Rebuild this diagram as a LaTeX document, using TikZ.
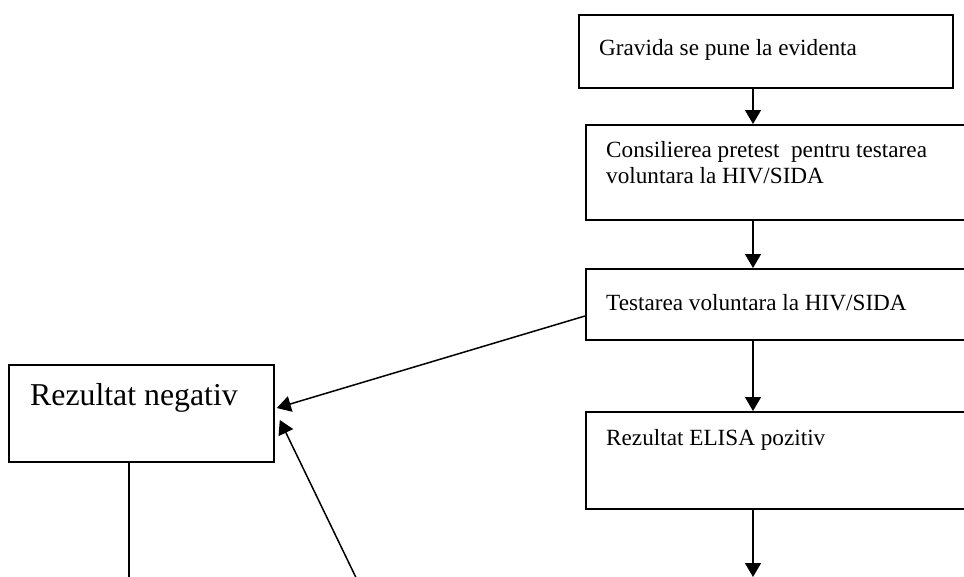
\documentclass[tikz,border=0pt]{standalone}
\usepackage{fontspec}
\setmainfont{Liberation Serif}
\usetikzlibrary{arrows.meta}
\begin{document}
\begin{tikzpicture}[x=1pt,y=-1pt,
  box/.style={draw,line width=1.8pt,rectangle,inner sep=0pt,anchor=north west},
  lbl/.style={anchor=base west,inner sep=0pt,font=\fontsize{23.2}{26}\selectfont,align=left},
  biglbl/.style={anchor=base west,inner sep=0pt,font=\fontsize{31.8}{36}\selectfont},
  conn/.style={line width=1.5pt,-{Triangle[width=16pt,length=14pt]}},
  plain/.style={line width=1.5pt},
]
\useasboundingbox (0,0) rectangle (964,576);
\clip (0,0) rectangle (964,576);
\fill[white] (0,0) rectangle (964,576);

\node[box,minimum width=374pt,minimum height=73pt] (b1) at (578,14) {};
\node[box,minimum width=400pt,minimum height=95pt] (b2) at (585,124) {};
\node[box,minimum width=400pt,minimum height=71pt] (b3) at (585,268) {};
\node[box,minimum width=400pt,minimum height=97pt] (b4) at (585,411) {};
\node[box,minimum width=265pt,minimum height=97pt] (neg) at (8,364) {};

\node[lbl] (t1) at (599,55) {Gravida se pune la evidenta};
\node[lbl] (t2) at (606,157) {Consilierea pretest\ \ pentru testarea};
\node[lbl] (t2b) at (606,183) {voluntara la HIV/SIDA};
\node[lbl] (t3) at (606,310) {Testarea voluntara la HIV/SIDA};
\node[lbl] (t4) at (606,445) {Rezultat ELISA pozitiv};
\node[biglbl] (tn) at (30,405) {Rezultat negativ};

\coordinate (e4) at (753,577);
\coordinate (enl) at (129,590);
\coordinate (src) at (362,590);

\draw[conn] (b1.south -| 753,0) -- (b2.north -| 753,0);
\draw[conn] (b2.south -| 753,0) -- (b3.north -| 753,0);
\draw[conn] (b3.south -| 753,0) -- (b4.north -| 753,0);
\draw[conn] (b4.south -| 753,0) -- (e4);
\draw[conn] ([yshift=-48pt]b3.north west) -- ([xshift=2pt,yshift=-44pt]neg.north east);
\draw[conn] (src) -- ([xshift=5pt,yshift=-56pt]neg.north east);
\draw[plain] (neg.south -| 129,0) -- (enl);
\end{tikzpicture}
\end{document}
